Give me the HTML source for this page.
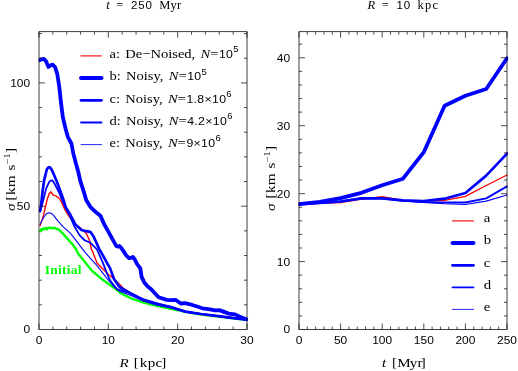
<!DOCTYPE html>
<html><head><meta charset="utf-8"><title>chart</title>
<style>html,body{margin:0;padding:0;background:#fff;}svg{display:block;will-change:transform;}</style></head>
<body>
<svg width="518" height="371" viewBox="0 0 518 371">
<rect width="518" height="371" fill="#ffffff"/>
<g clip-path="url(#cl1)">
<polyline points="39.8,231.3 40.5,230.9 41.3,229.5 42.0,230.0 42.8,229.6 43.5,228.6 44.5,228.9 45.5,227.8 46.2,228.1 47.0,229.3 47.8,228.1 48.5,227.8 49.2,228.0 50.0,227.5 51.1,228.3 52.2,228.1 53.1,227.8 54.0,228.4 54.8,227.8 55.5,228.4 57.0,229.1 58.0,229.0 59.0,230.0 59.7,230.4 60.4,230.8 61.0,231.9 61.7,232.5 62.3,233.0 62.9,233.8 63.5,234.1 64.1,234.9 64.6,235.9 65.2,236.2 65.8,237.0 66.4,237.5 67.0,238.0 67.6,239.1 68.2,239.6 68.8,240.1 69.4,241.0 70.0,241.4 70.6,242.3 71.2,243.2 71.9,243.5 72.5,244.3 73.0,244.9 73.5,245.6 74.0,246.7 74.6,247.2 75.1,247.8 75.6,248.6 76.1,249.1 76.5,250.3 76.9,251.2 77.3,251.6 77.7,252.7 78.1,253.4 78.6,254.0 79.1,255.1 79.6,255.3 80.1,255.9 80.6,256.7 81.1,257.1 81.6,258.1 82.1,258.7 82.6,258.9 83.1,259.8 83.6,260.3 84.1,261.0 84.6,261.9 85.1,262.1 85.6,262.8 86.1,263.6 86.6,264.0 87.1,265.0 87.6,265.5 88.1,265.8 88.6,266.7 89.1,267.2 89.6,267.9 90.1,268.8 90.6,268.9 91.1,269.7 91.6,270.5 92.2,270.9 92.9,271.7 93.5,272.0 94.1,272.3 94.8,273.2 95.4,273.6 96.0,274.2 96.7,274.9 97.3,275.0 97.9,275.8 98.6,276.5 99.2,276.8 99.8,277.6 100.5,277.9 101.1,278.3 101.8,279.2 102.5,279.5 103.2,280.1 103.8,280.6 104.5,280.7 105.2,281.5 105.9,282.1 106.6,282.4 107.3,283.2 107.9,283.4 108.6,283.8 109.3,284.7 110.0,285.0 110.7,285.5 111.3,286.0 112.0,286.1 112.7,287.0 113.3,287.5 114.0,287.8 114.7,288.5 115.3,288.6 116.0,289.2 116.7,290.1 117.4,290.4 118.1,291.0 118.7,291.6 119.4,291.9 120.1,292.8 120.8,293.4 121.5,293.6 122.2,294.0 123.0,294.3 123.7,294.7 124.4,295.2 125.1,295.4 125.8,295.8 126.6,296.1 127.3,296.4 128.0,296.9 128.7,297.2 129.4,297.5 130.2,297.9 130.9,298.2 131.6,298.6 132.4,299.0 133.1,299.0 133.9,299.3 134.7,299.6 135.4,299.8 136.2,300.2 136.9,300.4 137.7,300.5 138.5,300.9 139.2,301.0 140.0,301.4 140.8,301.7 141.5,301.8 142.3,302.1 143.0,302.3 143.8,302.6 144.6,302.9 145.4,303.0 146.2,303.1 147.0,303.4 147.8,303.5 148.6,303.9 149.4,304.1 150.2,304.1 150.9,304.4 151.7,304.6 152.5,304.8 153.3,305.1 154.1,305.1 154.9,305.3 155.7,305.6 156.5,305.8 157.3,306.1 158.1,306.2 158.9,306.2 159.7,306.5 160.5,306.7 161.3,306.8 162.1,307.1 162.9,307.1 163.7,307.3 164.4,307.5 165.2,307.6 166.0,307.9 166.8,308.0 167.6,308.0 168.4,308.4 169.2,308.5 170.0,308.6 170.8,308.9 171.6,308.9 172.4,309.1 173.2,309.4 174.0,309.4 174.7,309.7 175.5,309.8 176.3,309.9 177.1,310.2 177.9,310.3 178.7,310.5 179.5,310.7 180.3,310.7 181.1,311.0 181.8,311.2 182.6,311.3 183.4,311.5 184.2,311.6 185.0,311.7 185.8,312.0 186.6,312.1 187.4,312.2 188.2,312.4 188.9,312.4 189.7,312.7 190.5,312.8 191.3,312.9 192.1,313.1 192.9,313.1 193.7,313.2 194.5,313.6 195.3,313.6 196.1,313.7 196.8,313.9 197.6,313.9 198.4,314.2 199.2,314.3 200.0,314.3 200.8,314.5 201.6,314.5 202.4,314.7 203.2,314.9 204.0,314.8 204.8,315.0 205.6,315.1 206.4,315.1 207.2,315.3 208.0,315.4 208.8,315.4 209.6,315.6 210.4,315.6 211.2,315.7 212.0,315.9 212.8,315.9 213.6,316.0 214.4,316.1 215.2,316.1 216.0,316.4 216.8,316.4 217.6,316.4 218.4,316.6 219.2,316.6 220.0,316.8 220.8,317.0 221.6,316.9 222.4,317.0 223.2,317.2 224.0,317.2 224.8,317.5 225.6,317.4 226.4,317.5 227.2,317.7 228.0,317.7 228.8,317.9 229.6,318.0 230.4,317.9 231.2,318.1 232.0,318.2 232.8,318.3 233.6,318.5 234.4,318.5 235.2,318.5 236.0,318.8 236.8,318.8 237.6,319.0 238.4,319.0 239.2,319.0 240.1,319.2 240.9,319.3 241.7,319.4 242.5,319.6 243.3,319.5 244.1,319.6 244.9,319.9 245.7,319.9 246.5,320.0" fill="none" stroke="#00ff00" stroke-width="2.3" stroke-linejoin="round" stroke-linecap="round" />
<polyline points="40.1,225.6 43.2,216.5 45.0,208.6 47.2,199.5 48.9,194.3 50.9,191.8 52.9,194.9 56.3,196.2 59.6,198.5 62.4,203.9 65.0,209.9 69.0,216.3 75.0,224.2 80.1,227.9 86.2,233.1 89.6,240.5 91.4,249.3 92.3,250.8 97.0,263.0 102.4,268.4 108.5,274.5 111.2,276.5 119.5,284.3 123.5,288.4 130.0,293.0 143.8,299.9 157.3,303.9 170.8,307.0 185.4,311.6 200.9,314.0 216.3,315.9 231.8,317.5 246.5,319.7" fill="none" stroke="#ff0000" stroke-width="1.4" stroke-linejoin="round" stroke-linecap="round" />
<polyline points="39.3,60.3 41.5,59.3 43.8,58.8 45.8,60.8 47.2,64.0 48.5,66.9 50.5,65.5 52.6,64.6 55.3,67.6 57.3,74.3 59.3,87.0 60.8,101.0 62.8,117.0 65.5,128.5 67.8,136.8 71.4,143.5 73.2,153.0 76.0,163.8 78.2,171.5 80.5,181.6 84.0,192.4 86.2,200.0 90.3,206.8 95.5,211.8 100.6,215.9 103.8,223.5 110.0,234.6 116.2,245.9 117.6,246.7 119.4,246.0 121.0,247.6 123.8,251.6 126.0,255.2 129.0,258.1 131.0,257.8 132.9,257.0 134.8,259.5 137.1,264.2 140.3,268.4 141.6,276.8 144.5,282.8 147.5,286.3 151.2,289.2 158.6,297.2 166.8,299.9 170.0,300.1 175.4,299.8 180.8,303.5 185.4,303.2 190.0,304.3 194.7,305.8 202.4,308.3 210.2,309.4 214.8,310.3 219.4,310.1 228.7,313.6 234.9,314.4 241.0,317.3 246.5,319.3" fill="none" stroke="#0000ff" stroke-width="3.8" stroke-linejoin="round" stroke-linecap="round" />
<polyline points="39.9,211.0 41.0,206.0 42.5,192.0 44.1,180.3 46.8,169.5 48.0,167.7 49.2,167.1 50.5,167.9 52.2,170.8 56.3,180.3 60.3,191.0 63.7,200.4 65.7,207.3 69.8,213.9 75.4,224.5 81.5,230.0 86.0,231.2 90.3,231.8 93.6,236.5 96.8,243.6 99.0,248.6 101.1,252.2 107.8,264.3 110.0,268.1 114.0,278.9 119.5,287.0 130.3,293.1 143.8,299.9 157.3,303.9 170.8,307.0 185.4,311.6 200.9,314.0 216.3,315.9 231.8,317.9 246.5,319.7" fill="none" stroke="#0000ff" stroke-width="2.7" stroke-linejoin="round" stroke-linecap="round" />
<polyline points="40.2,211.5 43.5,199.2 46.2,188.4 49.3,181.6 50.6,180.6 51.8,180.3 53.2,181.5 54.9,184.3 59.0,192.4 63.0,201.9 66.0,208.5 70.0,216.0 74.0,225.7 79.5,235.1 84.9,240.5 90.3,242.7 92.3,244.6 97.0,249.5 102.4,261.6 107.2,273.8 110.0,280.3 113.2,284.6 117.3,289.3 130.3,293.5 143.8,300.2 157.3,304.1 170.8,307.2 185.4,311.6 200.9,314.0 216.3,315.9 231.8,317.9 246.5,319.7" fill="none" stroke="#0000ff" stroke-width="1.8" stroke-linejoin="round" stroke-linecap="round" />
<polyline points="40.3,224.0 44.1,216.6 46.6,213.7 49.1,212.7 51.5,213.5 53.6,215.3 57.6,220.7 63.0,226.6 70.3,233.2 75.6,239.8 84.9,252.2 97.0,265.7 106.5,277.8 114.6,287.3 120.0,291.5 130.3,295.2 143.8,301.3 157.3,305.1 170.8,308.0 185.4,312.0 200.9,314.0 216.3,315.9 231.8,317.9 246.5,319.7" fill="none" stroke="#0000ff" stroke-width="1.1" stroke-linejoin="round" stroke-linecap="round" />
</g>
<g clip-path="url(#cl2)">
<polyline points="299.0,204.2 319.8,203.2 340.6,202.5 361.4,199.1 382.2,196.7 403.0,200.4 423.8,201.5 444.6,200.4 465.4,196.4 486.2,185.5 507.0,175.0" fill="none" stroke="#ff0000" stroke-width="1.4" stroke-linejoin="round" stroke-linecap="round" />
<polyline points="299.0,204.2 319.8,201.8 340.6,198.2 361.4,192.8 382.2,185.3 403.0,178.7 423.8,152.2 444.6,105.8 465.4,95.8 486.2,89.0 507.0,58.3" fill="none" stroke="#0000ff" stroke-width="3.8" stroke-linejoin="round" stroke-linecap="round" />
<polyline points="299.0,204.2 319.8,202.8 340.6,201.5 361.4,198.4 382.2,198.4 403.0,200.4 423.8,201.1 444.6,198.7 465.4,193.0 486.2,175.6 507.0,153.6" fill="none" stroke="#0000ff" stroke-width="2.7" stroke-linejoin="round" stroke-linecap="round" />
<polyline points="299.0,204.2 319.8,202.8 340.6,201.5 361.4,198.4 382.2,198.4 403.0,200.8 423.8,202.1 444.6,202.5 465.4,202.5 486.2,198.4 507.0,186.4" fill="none" stroke="#0000ff" stroke-width="1.8" stroke-linejoin="round" stroke-linecap="round" />
<polyline points="299.0,204.2 319.8,202.8 340.6,201.5 361.4,198.4 382.2,198.4 403.0,200.8 423.8,202.5 444.6,203.8 465.4,204.5 486.2,201.1 507.0,195.0" fill="none" stroke="#0000ff" stroke-width="1.1" stroke-linejoin="round" stroke-linecap="round" />
</g>
<defs><clipPath id="cl1"><rect x="38.7" y="31.7" width="209.5" height="297.8"/></clipPath><clipPath id="cl2"><rect x="298.7" y="31.7" width="209.5" height="297.8"/></clipPath><clipPath id="cl3"><rect x="39.6" y="220" width="10" height="20"/></clipPath></defs>
<rect x="39.0" y="31.7" width="208.0" height="297.8" fill="none" stroke="#000" stroke-width="0.75"/>
<path d="M52.87,329.5v-3M52.87,31.7v3M66.73,329.5v-3M66.73,31.7v3M80.60,329.5v-3M80.60,31.7v3M94.47,329.5v-3M94.47,31.7v3M122.20,329.5v-3M122.20,31.7v3M136.07,329.5v-3M136.07,31.7v3M149.93,329.5v-3M149.93,31.7v3M163.80,329.5v-3M163.80,31.7v3M191.53,329.5v-3M191.53,31.7v3M205.40,329.5v-3M205.40,31.7v3M219.27,329.5v-3M219.27,31.7v3M233.13,329.5v-3M233.13,31.7v3M39.00,329.5v-6M39.00,31.7v6M108.33,329.5v-6M108.33,31.7v6M177.67,329.5v-6M177.67,31.7v6M247.00,329.5v-6M247.00,31.7v6M39.0,304.84h3M247.0,304.84h-3M39.0,280.18h3M247.0,280.18h-3M39.0,255.52h3M247.0,255.52h-3M39.0,230.86h3M247.0,230.86h-3M39.0,181.54h3M247.0,181.54h-3M39.0,156.88h3M247.0,156.88h-3M39.0,132.22h3M247.0,132.22h-3M39.0,107.56h3M247.0,107.56h-3M39.0,58.24h3M247.0,58.24h-3M39.0,33.58h3M247.0,33.58h-3M39.0,206.20h6M247.0,206.20h-6M39.0,82.90h6M247.0,82.90h-6" stroke="#000" stroke-width="0.7" fill="none"/>
<rect x="299.0" y="31.7" width="208.0" height="297.8" fill="none" stroke="#000" stroke-width="0.75"/>
<path d="M307.32,329.5v-3M307.32,31.7v3M315.64,329.5v-3M315.64,31.7v3M323.96,329.5v-3M323.96,31.7v3M332.28,329.5v-3M332.28,31.7v3M348.92,329.5v-3M348.92,31.7v3M357.24,329.5v-3M357.24,31.7v3M365.56,329.5v-3M365.56,31.7v3M373.88,329.5v-3M373.88,31.7v3M390.52,329.5v-3M390.52,31.7v3M398.84,329.5v-3M398.84,31.7v3M407.16,329.5v-3M407.16,31.7v3M415.48,329.5v-3M415.48,31.7v3M432.12,329.5v-3M432.12,31.7v3M440.44,329.5v-3M440.44,31.7v3M448.76,329.5v-3M448.76,31.7v3M457.08,329.5v-3M457.08,31.7v3M473.72,329.5v-3M473.72,31.7v3M482.04,329.5v-3M482.04,31.7v3M490.36,329.5v-3M490.36,31.7v3M498.68,329.5v-3M498.68,31.7v3M299.00,329.5v-6M299.00,31.7v6M340.60,329.5v-6M340.60,31.7v6M382.20,329.5v-6M382.20,31.7v6M423.80,329.5v-6M423.80,31.7v6M465.40,329.5v-6M465.40,31.7v6M507.00,329.5v-6M507.00,31.7v6M299.0,315.92h3M507.0,315.92h-3M299.0,302.33h3M507.0,302.33h-3M299.0,288.75h3M507.0,288.75h-3M299.0,275.16h3M507.0,275.16h-3M299.0,247.99h3M507.0,247.99h-3M299.0,234.41h3M507.0,234.41h-3M299.0,220.82h3M507.0,220.82h-3M299.0,207.24h3M507.0,207.24h-3M299.0,180.06h3M507.0,180.06h-3M299.0,166.48h3M507.0,166.48h-3M299.0,152.90h3M507.0,152.90h-3M299.0,139.31h3M507.0,139.31h-3M299.0,112.14h3M507.0,112.14h-3M299.0,98.56h3M507.0,98.56h-3M299.0,84.97h3M507.0,84.97h-3M299.0,71.38h3M507.0,71.38h-3M299.0,44.22h3M507.0,44.22h-3M299.0,261.57h6M507.0,261.57h-6M299.0,193.65h6M507.0,193.65h-6M299.0,125.73h6M507.0,125.73h-6M299.0,57.80h6M507.0,57.80h-6" stroke="#000" stroke-width="0.7" fill="none"/>
<g clip-path="url(#cl3)"><polyline points="39.8,231.3 40.5,230.9 41.3,229.5 42.0,230.0 42.8,229.6 43.5,228.6" fill="none" stroke="#00ff00" stroke-width="2.3" stroke-linejoin="round" stroke-linecap="round" /></g>
<g font-family="Liberation Sans, sans-serif" font-size="11" fill="#000">
<text transform="translate(30.2,333.4) scale(1.09,1)" text-anchor="end">0</text>
<text transform="translate(30.2,210.1) scale(1.09,1)" text-anchor="end">50</text>
<text transform="translate(30.2,86.8) scale(1.09,1)" text-anchor="end">100</text>
<text transform="translate(290.2,333.4) scale(1.09,1)" text-anchor="end">0</text>
<text transform="translate(290.2,265.5) scale(1.09,1)" text-anchor="end">10</text>
<text transform="translate(290.2,197.6) scale(1.09,1)" text-anchor="end">20</text>
<text transform="translate(290.2,129.6) scale(1.09,1)" text-anchor="end">30</text>
<text transform="translate(290.2,61.7) scale(1.09,1)" text-anchor="end">40</text>
<text transform="translate(39.0,344.0) scale(1.09,1)" text-anchor="middle">0</text>
<text transform="translate(108.3,344.0) scale(1.09,1)" text-anchor="middle">10</text>
<text transform="translate(177.7,344.0) scale(1.09,1)" text-anchor="middle">20</text>
<text transform="translate(247.0,344.0) scale(1.09,1)" text-anchor="middle">30</text>
<text transform="translate(299.0,344.0) scale(1.09,1)" text-anchor="middle">0</text>
<text transform="translate(340.6,344.0) scale(1.09,1)" text-anchor="middle">50</text>
<text transform="translate(382.2,344.0) scale(1.09,1)" text-anchor="middle">100</text>
<text transform="translate(423.8,344.0) scale(1.09,1)" text-anchor="middle">150</text>
<text transform="translate(465.4,344.0) scale(1.09,1)" text-anchor="middle">200</text>
<text transform="translate(507.0,344.0) scale(1.09,1)" text-anchor="middle">250</text>
</g>
<line x1="80.5" x2="101.8" y1="55.9" y2="55.9" stroke="#ff0000" stroke-width="1.1"/>
<line x1="81" x2="101.5" y1="78.1" y2="78.1" stroke="#0000ff" stroke-width="4.0" stroke-linecap="round"/>
<line x1="81" x2="101.5" y1="100.3" y2="100.3" stroke="#0000ff" stroke-width="2.7" stroke-linecap="round"/>
<line x1="81" x2="101.5" y1="122.5" y2="122.5" stroke="#0000ff" stroke-width="1.8" stroke-linecap="round"/>
<line x1="81" x2="101.5" y1="144.6" y2="144.6" stroke="#0000ff" stroke-width="0.85" stroke-linecap="round"/>
<text id="leg0" transform="translate(109.5,58.1) scale(1.12,1)" font-family="Liberation Serif, serif" font-size="13" letter-spacing="0.0" word-spacing="1.4" fill="#000"  xml:space="preserve">a: De−Noised, <tspan font-style="italic">N</tspan><tspan letter-spacing="0.5">=</tspan><tspan font-family="Liberation Sans, sans-serif" font-size="11" letter-spacing="0.3">10</tspan><tspan font-family="Liberation Sans, sans-serif" font-size="8.5" dy="-5.7" letter-spacing="0">5</tspan></text>
<text id="leg1" transform="translate(109.5,80.3) scale(1.12,1)" font-family="Liberation Serif, serif" font-size="13" letter-spacing="0.0" word-spacing="1.4" fill="#000"  xml:space="preserve">b: Noisy, <tspan font-style="italic">N</tspan><tspan letter-spacing="0.5">=</tspan><tspan font-family="Liberation Sans, sans-serif" font-size="11" letter-spacing="0.3">10</tspan><tspan font-family="Liberation Sans, sans-serif" font-size="8.5" dy="-5.7" letter-spacing="0">5</tspan></text>
<text id="leg2" transform="translate(109.5,102.5) scale(1.12,1)" font-family="Liberation Serif, serif" font-size="13" letter-spacing="0.0" word-spacing="1.4" fill="#000"  xml:space="preserve">c: Noisy, <tspan font-style="italic">N</tspan><tspan letter-spacing="0.5">=</tspan><tspan font-family="Liberation Sans, sans-serif" font-size="11" letter-spacing="0.3">1.8×10</tspan><tspan font-family="Liberation Sans, sans-serif" font-size="8.5" dy="-5.7" letter-spacing="0">6</tspan></text>
<text id="leg3" transform="translate(109.5,124.7) scale(1.12,1)" font-family="Liberation Serif, serif" font-size="13" letter-spacing="0.0" word-spacing="1.4" fill="#000"  xml:space="preserve">d: Noisy, <tspan font-style="italic">N</tspan><tspan letter-spacing="0.5">=</tspan><tspan font-family="Liberation Sans, sans-serif" font-size="11" letter-spacing="0.3">4.2×10</tspan><tspan font-family="Liberation Sans, sans-serif" font-size="8.5" dy="-5.7" letter-spacing="0">6</tspan></text>
<text id="leg4" transform="translate(109.5,146.8) scale(1.12,1)" font-family="Liberation Serif, serif" font-size="13" letter-spacing="0.0" word-spacing="1.4" fill="#000"  xml:space="preserve">e: Noisy, <tspan font-style="italic">N</tspan><tspan letter-spacing="0.5">=</tspan><tspan font-family="Liberation Sans, sans-serif" font-size="11" letter-spacing="0.3">9×10</tspan><tspan font-family="Liberation Sans, sans-serif" font-size="8.5" dy="-5.7" letter-spacing="0">6</tspan></text>
<text id="init" transform="translate(44.7,274.1) scale(1.03,1)" font-family="Liberation Serif, serif" font-size="13.0" letter-spacing="0.3" word-spacing="1.4" fill="#00ff00" font-weight="bold" xml:space="preserve">Initial</text>
<line x1="452" x2="474" y1="220.9" y2="220.9" stroke="#ff0000" stroke-width="1.1"/>
<line x1="452.5" x2="473.5" y1="243.0" y2="243.0" stroke="#0000ff" stroke-width="4.0" stroke-linecap="round"/>
<line x1="452.5" x2="473.5" y1="265.3" y2="265.3" stroke="#0000ff" stroke-width="2.7" stroke-linecap="round"/>
<line x1="452.5" x2="473.5" y1="287.4" y2="287.4" stroke="#0000ff" stroke-width="1.8" stroke-linecap="round"/>
<line x1="452.5" x2="473.5" y1="309.4" y2="309.4" stroke="#0000ff" stroke-width="0.85" stroke-linecap="round"/>
<text id="rl0" transform="translate(483.7,222.1) scale(1.12,1)" font-family="Liberation Serif, serif" font-size="13.2" letter-spacing="0.0" word-spacing="1.4" fill="#000"  xml:space="preserve">a</text>
<text id="rl1" transform="translate(483.7,244.2) scale(1.12,1)" font-family="Liberation Serif, serif" font-size="13.2" letter-spacing="0.0" word-spacing="1.4" fill="#000"  xml:space="preserve">b</text>
<text id="rl2" transform="translate(483.7,266.5) scale(1.12,1)" font-family="Liberation Serif, serif" font-size="13.2" letter-spacing="0.0" word-spacing="1.4" fill="#000"  xml:space="preserve">c</text>
<text id="rl3" transform="translate(483.7,288.6) scale(1.12,1)" font-family="Liberation Serif, serif" font-size="13.2" letter-spacing="0.0" word-spacing="1.4" fill="#000"  xml:space="preserve">d</text>
<text id="rl4" transform="translate(483.7,310.6) scale(1.12,1)" font-family="Liberation Serif, serif" font-size="13.2" letter-spacing="0.0" word-spacing="1.4" fill="#000"  xml:space="preserve">e</text>
<text id="t1" transform="translate(106.2,8.7) scale(1.0,1)" font-family="Liberation Serif, serif" font-size="12.5" letter-spacing="0.1" word-spacing="3.2" fill="#000"  xml:space="preserve"><tspan font-style="italic">t</tspan> <tspan letter-spacing="1.3">=</tspan> <tspan font-family="Liberation Sans, sans-serif" font-size="11.5" letter-spacing="0.9">250</tspan> Myr</text>
<text id="t2" transform="translate(367.5,8.7) scale(1.0,1)" font-family="Liberation Serif, serif" font-size="12.5" letter-spacing="0.1" word-spacing="3.2" fill="#000"  xml:space="preserve"><tspan font-style="italic">R</tspan> <tspan letter-spacing="1.3">=</tspan> <tspan font-family="Liberation Sans, sans-serif" font-size="11.5" letter-spacing="0.9">10</tspan> <tspan letter-spacing="1.2">kpc</tspan></text>
<text id="xl1" transform="translate(119.6,367.3) scale(1.12,1)" font-family="Liberation Serif, serif" font-size="13.5" letter-spacing="0.3" word-spacing="0.5" fill="#000"  xml:space="preserve"><tspan font-style="italic">R</tspan> [<tspan dx="0.5">kpc</tspan><tspan dx="-1.3">]</tspan></text>
<text id="xl2" transform="translate(382.1,367.3) scale(1.12,1)" font-family="Liberation Serif, serif" font-size="13.5" letter-spacing="0.3" word-spacing="1.0" fill="#000"  xml:space="preserve"><tspan font-style="italic">t</tspan> [M<tspan dx="-1.2">yr</tspan><tspan dx="-2.0">]</tspan></text>
<text id="yl1" transform="translate(15.1,211) rotate(-90) scale(1.12,1)" font-family="Liberation Serif, serif" font-size="13.5" letter-spacing="0.3" word-spacing="0.3" fill="#000"  xml:space="preserve"><tspan font-style="italic">σ</tspan><tspan dx="-1.5"> [</tspan>km s<tspan font-size="9" dy="-5">−1</tspan><tspan dy="5">]</tspan></text>
<text id="yl2" transform="translate(275.1,211) rotate(-90) scale(1.12,1)" font-family="Liberation Serif, serif" font-size="13.5" letter-spacing="0.3" word-spacing="0.3" fill="#000"  xml:space="preserve"><tspan font-style="italic">σ</tspan><tspan dx="0.3"> [</tspan>km s<tspan font-size="9" dy="-5">−1</tspan><tspan dy="5">]</tspan></text>
</svg>
</body></html>
